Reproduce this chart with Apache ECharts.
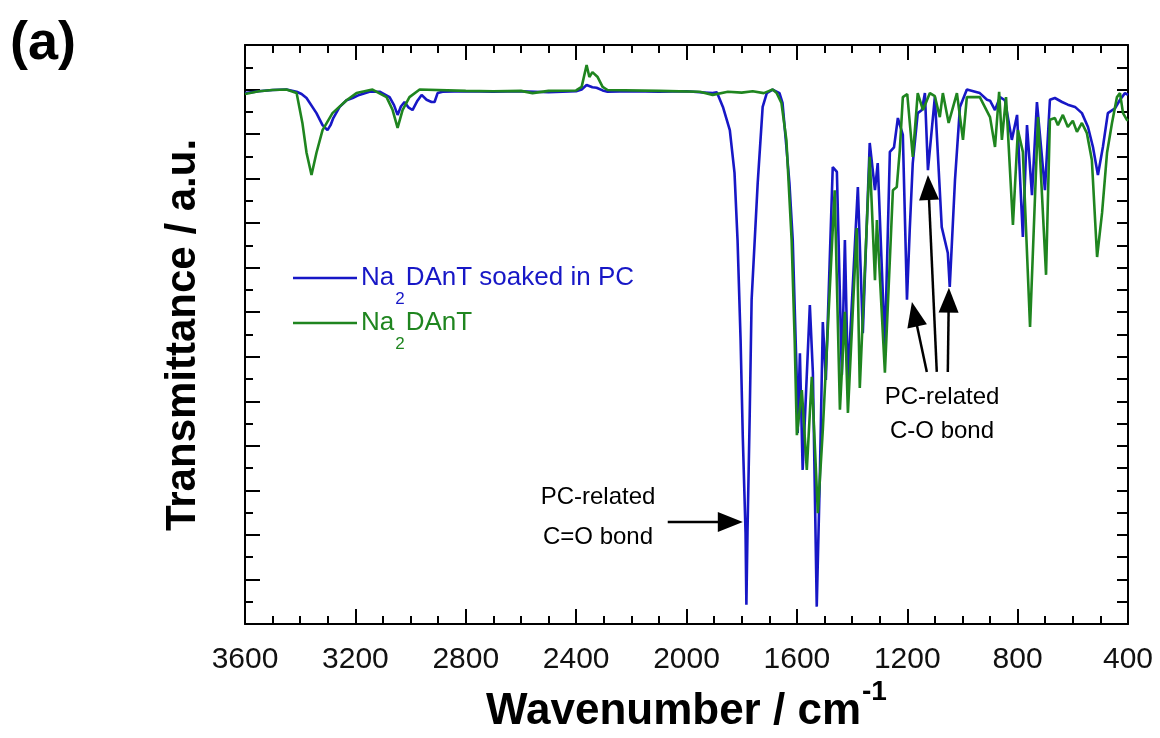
<!DOCTYPE html>
<html><head><meta charset="utf-8">
<script src="https://cdn.jsdelivr.net/npm/echarts@6/dist/echarts.min.js"></script>
<style>html,body{margin:0;padding:0;background:#fff}#c{width:1160px;height:738px}</style>
</head><body><div id="c"></div>
<script>
// ---------- data ----------
const blueWavenumber = [3600,3550,3500,3450,3413,3395,3377,3341,3319,3301,3290,3280,3257,3232,3210,3186,3149,3112,3076,3060,3047,3035,3022,3008,2993,2975,2960,2942,2924,2913,2902,2884,2800,2700,2600,2500,2400,2380,2362,2341,2326,2304,2286,2200,2100,2000,1952,1905,1890,1868,1843,1826,1815,1804,1796,1786,1783,1779,1771,1764,1742,1724,1709,1688,1663,1652,1638,1627,1615,1601,1597,1589,1579,1553,1542,1528,1517,1506,1495,1470,1455,1437,1426,1415,1379,1361,1336,1317,1307,1281,1263,1248,1234,1216,1201,1191,1180,1162,1147,1136,1125,1100,1075,1053,1046,1027,1009,984,937,911,900,882,864,846,821,802,781,766,748,730,701,683,665,639,618,592,567,545,527,509,491,473,447,429,411,400];
const blueTransmittance = [11.92,11.96,11.99,12.00,11.95,11.90,11.81,11.47,11.20,11.09,11.20,11.36,11.61,11.76,11.81,11.88,11.95,11.95,11.83,11.65,11.43,11.62,11.72,11.60,11.54,11.75,11.88,11.77,11.72,11.72,11.92,11.95,11.96,11.95,11.96,11.94,11.96,12.00,12.10,12.05,12.04,11.98,11.95,11.96,11.95,11.96,11.94,11.92,11.94,11.61,11.09,10.13,8.62,6.38,4.20,2.05,0.43,2.05,4.67,7.28,9.90,11.61,11.92,12.00,11.92,11.70,10.71,9.90,8.62,5.64,4.29,6.08,3.46,7.16,5.64,0.39,3.23,6.78,5.48,10.26,10.15,5.59,8.62,5.48,9.81,6.53,10.80,9.74,10.35,6.22,10.60,10.70,11.36,10.98,7.28,8.85,10.35,11.47,11.54,11.92,10.19,11.83,8.91,8.33,7.57,9.97,11.61,12.00,11.92,11.77,11.75,11.54,11.83,11.76,10.87,11.43,8.69,11.20,9.63,11.72,9.74,11.77,11.81,11.72,11.66,11.61,11.47,11.16,10.71,10.08,10.71,11.47,11.58,11.77,11.92,11.88];

const greenWavenumber = [3600,3550,3500,3450,3413,3392,3377,3359,3341,3319,3283,3232,3196,3138,3087,3065,3047,3029,3004,2967,2800,2700,2600,2558,2500,2400,2380,2362,2352,2341,2322,2304,2286,2100,1952,1905,1850,1800,1760,1720,1700,1688,1673,1656,1638,1619,1608,1600,1582,1564,1546,1524,1506,1463,1444,1426,1415,1383,1372,1336,1317,1310,1281,1252,1238,1227,1216,1200,1180,1162,1143,1118,1100,1082,1071,1050,1020,998,984,937,919,900,882,867,857,842,817,799,781,755,726,697,683,665,654,636,618,600,585,567,549,531,512,494,476,458,440,429,418,404,400];
const greenTransmittance = [11.90,11.96,11.99,12.00,11.92,11.25,10.58,10.08,10.58,11.09,11.47,11.76,11.92,12.00,11.83,11.54,11.14,11.54,11.83,12.00,11.97,11.96,11.97,11.92,11.97,11.98,12.06,12.55,12.28,12.39,12.28,12.06,11.99,11.97,11.95,11.88,11.95,11.93,11.96,11.92,11.97,12.00,11.92,11.70,10.87,8.62,6.38,4.24,5.25,3.46,5.55,2.49,4.36,9.74,4.81,7.01,4.74,8.89,5.30,10.49,7.72,9.07,5.64,9.74,9.81,10.64,11.83,11.90,10.49,11.92,11.54,11.92,11.85,11.38,11.92,11.25,11.92,10.87,11.83,11.83,11.61,11.38,10.71,11.95,10.87,11.83,8.96,11.09,10.60,6.67,11.38,7.84,11.32,11.36,11.20,11.43,11.16,11.30,11.05,11.25,11.02,10.42,8.24,9.23,10.58,11.25,11.83,11.92,11.47,11.32,11.30];

const xMin = 400, xMax = 3600, xStep = 400;
const yMin = 0, yMax = 13, yStep = 1;
const legendParts = [['Na', '2', 'DAnT soaked in PC'], ['Na', '2', 'DAnT']];
const xTitleParts = ['Wavenumber / cm', '-1'];
const yTitle = 'Transmittance / a.u.';
const panelLabel = '(a)';
const noteCO = ['PC-related', 'C=O bond'];
const noteCOsingle = ['PC-related', 'C-O bond'];

// ---------- build ----------
const BLUE = '#1717c6', GREEN = '#1f851f';
const FF = '"Liberation Sans", Arial, Helvetica, sans-serif';
const zip = (a, b) => a.map((v, i) => [v, b[i]]);

const mctx = document.createElement('canvas').getContext('2d');
function tw(t, font) { mctx.font = font; return mctx.measureText(t).width; }

const chart = echarts.init(document.getElementById('c'), null, {renderer: 'canvas'});

const xCommon = {
  type: 'value', min: xMin, max: xMax, interval: xStep, inverse: true,
  axisLine: {show: true, onZero: false, lineStyle: {color: '#000', width: 2}},
  axisTick: {show: true, inside: true, length: 15, lineStyle: {color: '#000', width: 2}},
  minorTick: {show: true, splitNumber: 4, length: 8, lineStyle: {color: '#000', width: 2}},
  splitLine: {show: false}, minorSplitLine: {show: false}
};
const yCommon = {
  type: 'value', min: yMin, max: yMax,
  axisLine: {show: true, onZero: false, lineStyle: {color: '#000', width: 2}},
  splitLine: {show: false}, minorSplitLine: {show: false}, axisLabel: {show: false}
};

// arrow annotations in data coordinates: [tailX, tailY, tipX, tipY]
const arrowDefs = [[2068, 2.29, 1796, 2.29], [1129, 5.66, 1183, 7.23], [1093, 5.66, 1125, 10.08], [1053, 5.66, 1049, 7.55]];

// graphic texts
const g = [];
g.push({type: 'text', x: 10, y: 44, style: {text: panelLabel, font: 'bold 54px ' + FF, fill: '#000', align: 'left', verticalAlign: 'middle', textAlign: 'left', textVerticalAlign: 'middle'}});
g.push({type: 'text', x: 183, y: 335, rotation: Math.PI / 2, style: {text: yTitle, font: 'bold 42px ' + FF, fill: '#000', align: 'center', verticalAlign: 'middle', textAlign: 'center', textVerticalAlign: 'middle'}});
(function () {
  const f1 = 'bold 44px ' + FF, f2 = 'bold 28px ' + FF;
  const w1 = tw(xTitleParts[0], f1), w2 = tw(xTitleParts[1], f2);
  const x0 = 686 - (w1 + w2) / 2;
  g.push({type: 'text', x: x0, y: 712, style: {text: xTitleParts[0], font: f1, fill: '#000', align: 'left', verticalAlign: 'middle', textAlign: 'left', textVerticalAlign: 'middle'}});
  g.push({type: 'text', x: x0 + w1 + 1, y: 692, style: {text: xTitleParts[1], font: f2, fill: '#000', align: 'left', verticalAlign: 'middle', textAlign: 'left', textVerticalAlign: 'middle'}});
})();
[[278, BLUE], [323, GREEN]].forEach(function (it, i) {
  const y = it[0], col = it[1];
  const fm = '26px ' + FF, fs = '17px ' + FF;
  g.push({type: 'line', shape: {x1: 293, y1: y, x2: 357, y2: y}, style: {stroke: col, lineWidth: 2.6}});
  const p = legendParts[i];
  let x = 361;
  g.push({type: 'text', x: x, y: y, style: {text: p[0], font: fm, fill: col, align: 'left', verticalAlign: 'middle', textAlign: 'left', textVerticalAlign: 'middle'}});
  x += tw(p[0], fm) + 1;
  g.push({type: 'text', x: x, y: y + 21, style: {text: p[1], font: fs, fill: col, align: 'left', verticalAlign: 'middle', textAlign: 'left', textVerticalAlign: 'middle'}});
  x += tw(p[1], fs) + 1;
  g.push({type: 'text', x: x, y: y, style: {text: p[2], font: fm, fill: col, align: 'left', verticalAlign: 'middle', textAlign: 'left', textVerticalAlign: 'middle'}});
});
function note(lines, cx, y1, y2) {
  [y1, y2].forEach(function (y, i) {
    g.push({type: 'text', x: cx, y: y, style: {text: lines[i], font: '24px ' + FF, fill: '#000', align: 'center', verticalAlign: 'middle', textAlign: 'center', textVerticalAlign: 'middle'}});
  });
}
note(noteCO, 598, 497, 537);
note(noteCOsingle, 942, 397, 431);

chart.setOption({
  animation: false,
  backgroundColor: '#fff',
  grid: {left: 245, right: 32, top: 45, bottom: 114, containLabel: false},
  xAxis: [
    Object.assign({}, xCommon, {position: 'bottom',
      axisLabel: {show: true, margin: 21, fontSize: 30, color: '#111', fontFamily: FF,
        formatter: function (v) { return String(v); }}}),
    Object.assign({}, xCommon, {position: 'top', axisLabel: {show: false}})
  ],
  yAxis: [
    Object.assign({}, yCommon, {position: 'left', interval: yStep,
      axisTick: {show: true, inside: true, length: 15, lineStyle: {color: '#000', width: 2}},
      minorTick: {show: true, splitNumber: 2, length: 8, lineStyle: {color: '#000', width: 2}}}),
    Object.assign({}, yCommon, {position: 'right', interval: yStep / 2,
      axisTick: {show: true, inside: true, length: 11, lineStyle: {color: '#000', width: 2}},
      minorTick: {show: false}})
  ],
  series: [
    {
      name: 'Na2DAnT soaked in PC', type: 'line', xAxisIndex: 0, yAxisIndex: 0,
      data: zip(blueWavenumber, blueTransmittance),
      showSymbol: false, symbol: 'none', smooth: false,
      lineStyle: {color: BLUE, width: 2.6}, itemStyle: {color: BLUE},
      emphasis: {disabled: true}, z: 2
    },
    {
      name: 'Na2DAnT', type: 'line', xAxisIndex: 0, yAxisIndex: 0,
      data: zip(greenWavenumber, greenTransmittance),
      showSymbol: false, symbol: 'none', smooth: false,
      lineStyle: {color: GREEN, width: 2.6}, itemStyle: {color: GREEN},
      emphasis: {disabled: true}, z: 3
    }
  ],
  graphic: g
});

// arrows: positioned through the chart's own scales
const headLen = 25, headHalf = 10;
arrowDefs.forEach(function (a) {
  const t = chart.convertToPixel({gridIndex: 0}, [a[0], a[1]]);
  const p = chart.convertToPixel({gridIndex: 0}, [a[2], a[3]]);
  const dx = p[0] - t[0], dy = p[1] - t[1];
  const L = Math.sqrt(dx * dx + dy * dy), ux = dx / L, uy = dy / L;
  const bx = p[0] - ux * headLen, by = p[1] - uy * headLen;
  g.push({type: 'line', z: 50, shape: {x1: t[0], y1: t[1], x2: bx + ux * 2, y2: by + uy * 2}, style: {stroke: '#000', lineWidth: 2.5}});
  g.push({type: 'polygon', z: 50, shape: {points: [[p[0], p[1]], [bx - uy * headHalf, by + ux * headHalf], [bx + uy * headHalf, by - ux * headHalf]]}, style: {fill: '#000'}});
});
chart.setOption({graphic: g}, {replaceMerge: ['graphic']});
</script>
</body></html>
